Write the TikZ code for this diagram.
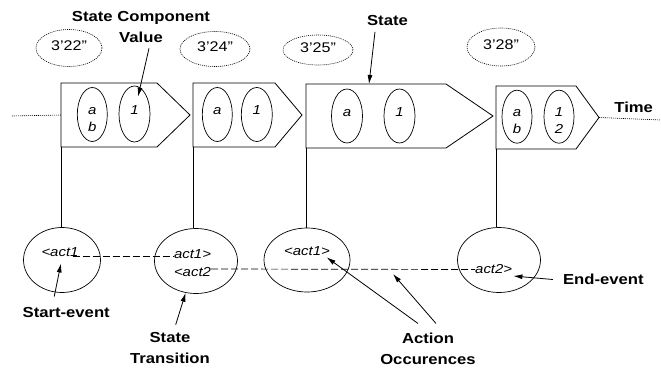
\documentclass[tikz,border=0pt]{standalone}
\usepackage{fontspec}
\setmainfont{Liberation Sans}[FakeStretch=1.15]
\usetikzlibrary{shapes.geometric,arrows.meta}

\begin{document}
\begin{tikzpicture}[x=1pt,y=-1pt,
  state/.style={draw, line width=0.8pt, line join=miter},
  val/.style={draw, ellipse, line width=0.7pt, inner sep=0pt, minimum width=30pt, minimum height=54pt,
    align=center, text height=8pt, text depth=8pt, font=\fontsize{13}{17}\selectfont\itshape},
  val2/.style={val, text height=34pt, text depth=0pt},
  stamp/.style={draw, ellipse, dash pattern=on 1pt off 1pt, line width=0.6pt, inner sep=0pt,
    minimum width=67pt, minimum height=36pt, text height=10pt, text depth=4.6pt, font=\fontsize{14}{17}\selectfont},
  event/.style={draw, ellipse, line width=0.7pt, minimum width=83pt, minimum height=65pt, inner sep=0pt},
  act/.style={inner sep=0pt, font=\fontsize{13}{17}\selectfont\itshape},
  lbl/.style={inner sep=0pt, align=center, font=\fontsize{14.5}{21}\selectfont\bfseries},
  ptr/.style={-{Latex[length=9pt,width=5pt]}, line width=0.8pt},
  occ/.style={dash pattern=on 7pt off 3pt, line width=0.7pt},
  timeline/.style={dash pattern=on 1pt off 1pt, line width=0.6pt}]
  \useasboundingbox (0,0) rectangle (661,369);

  % the states along the time line: number/left/top/bottom/slant/tip
  \foreach \n/\l/\t/\b/\k/\p in {1/61/83/147/157/190, 2/193/83/147/275/302,
                                 3/306/84/148/446/493, 4/496/86/149/576/599} {
    \draw[state] (\l,\t) -- (\k,\t) -- (\p,{(\t+\b)/2}) coordinate (s\n tip)
      -- (\k,\b) -- (\l,\b) coordinate (s\n) -- cycle;
    \coordinate (s\n w) at (\l,{(\t+\b)/2});
  }
  \coordinate (s3top) at (369,84);

  % state component values
  \node[val2] (v1a) at (92.3,114.5) {a\\b};
  \node[val, minimum width=31pt, minimum height=56pt] (v1b) at (134.5,114) {1};
  \node[val] (v2a) at (217.3,114.5) {a};
  \node[val, minimum width=31pt] (v2b) at (256.8,114.5) {1};
  \node[val, minimum width=31pt] (v3a) at (347,116) {a};
  \node[val, minimum width=31pt] (v3b) at (399.5,116) {1};
  \node[val2, minimum height=53pt] (v4a) at (517,116.7) {a\\b};
  \node[val2, minimum height=53pt] (v4b) at (559,116.7) {1\\2};

  % time stamps
  \node[stamp, minimum width=66pt, minimum height=37pt] (t22) at (69,48) {3'22''};
  \node[stamp, minimum width=70pt, minimum height=35pt] (t24) at (215,49) {3'24''};
  \node[stamp, minimum width=70pt, minimum height=30pt] (t25) at (318,50) {3'25''};
  \node[stamp, minimum width=68pt, minimum height=38pt] (t28) at (501,47) {3'28''};

  % time line
  \coordinate (tl) at (12,116);
  \coordinate (tr) at (661,120);
  \draw[timeline] (tl) -- (s1w);
  \draw[timeline] (s4tip) -- (tr);
  \node[lbl] (time) at (633.7,107.3) {Time};

  % events
  \node[event, minimum width=77pt] (e1) at (62,260) {};
  \node[event] (e2) at (196,261) {};
  \node[event, minimum width=86pt, minimum height=64pt] (e3) at (307,260) {};
  \node[event] (e4) at (499,260) {};
  \foreach \s/\e in {s1/e1, s2/e2, s3/e3, s4/e4}
    \draw[line width=0.8pt] (\s) -- (\s |- \e.north);

  \node[act] (a1) at (60,251.7) {<act1};
  \node[act] (a2) at (192.5,254) {act1>};
  \node[act] (a3) at (192.5,272) {<act2};
  \node[act] (a4) at (307,251) {<act1>};
  \node[act] (a5) at (493.7,269.5) {act2>};

  % action occurences
  \draw[occ] ([xshift=-6pt]a1.base east) -- (a2.west |- a1.base east);
  \draw[occ] ([yshift=3pt]a3.east) -- (a5.west);

  % labels
  \node[lbl] (scv) at (141,27.5) {State Component\\Value};
  \node[lbl] (st) at (387.5,20.5) {State};
  \node[lbl] (start) at (66.2,313) {Start-event};
  \node[lbl] (trans) at (170,348.5) {State\\Transition};
  \node[lbl] (occs) at (428,348.5) {Action\\Occurences};
  \node[lbl] (end) at (603.3,279.5) {End-event};
  \coordinate (occline) at (393,274);

  \draw[ptr] ([xshift=8pt,yshift=-5pt]scv.south) -- ([xshift=3.5pt,yshift=-11pt]v1b.north);
  \draw[ptr] ([xshift=-12.5pt,yshift=-6pt]st.south) -- (s3top);
  \draw[ptr] ([xshift=-12pt,yshift=11pt]start.north) -- ([xshift=1pt,yshift=-7pt]a1.south);
  \draw[ptr] ([xshift=5.7pt,yshift=8pt]trans.north) -- (e2.252);
  \draw[ptr] ([xshift=-10pt,yshift=9pt]occs.north) -- ([xshift=-3.4pt,yshift=-1.6pt]a4.south east);
  \draw[ptr] ([xshift=8pt,yshift=9pt]occs.north) -- (occline);
  \draw[ptr] ([xshift=-10pt]end.west) -- ([xshift=1pt,yshift=-6.5pt]a5.east);
\end{tikzpicture}
\end{document}
